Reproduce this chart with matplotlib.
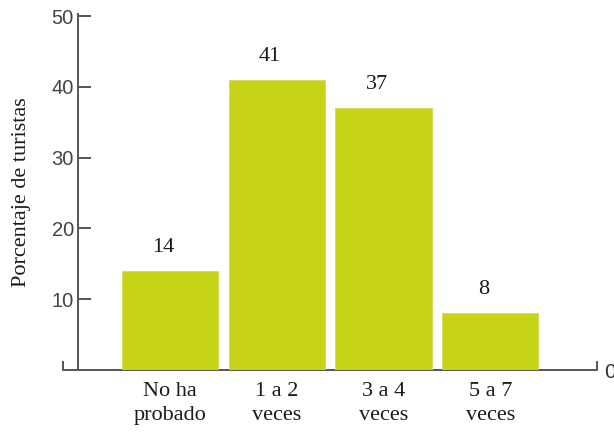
import matplotlib.pyplot as plt

# survey results: how many times tourists have tried the dish
categorias = ["No ha\nprobado", "1 a 2\nveces", "3 a 4\nveces", "5 a 7\nveces"]
porcentajes = [14, 41, 37, 8]
ticks_y = [10, 20, 30, 40, 50]

verde = "#c6d316"
gris = "#555555"
serif = "Liberation Serif"

W, H = 614, 432
fig = plt.figure(figsize=(W / 100, H / 100), dpi=100)
ax = fig.add_axes([78 / W, 1 - 370 / H, 518 / W, 356 / H])

pos = list(range(len(categorias)))
bars = ax.bar(pos, porcentajes, width=0.9, color=verde, edgecolor="#d2dc55",
              linewidth=0.6, zorder=3)

for b, v in zip(bars, porcentajes):
    ax.annotate(str(v), (b.get_x() + b.get_width() / 2, v), xytext=(-5, 10),
                textcoords="offset points", ha="center", va="bottom",
                fontsize=16, family=serif, color="#1a1a1a")

ax.set_xlim(-0.86, 3.99)
ax.set_ylim(0, 50.3)

ax.set_yticks(ticks_y)
ax.set_yticklabels([str(t) for t in ticks_y], fontsize=14.5, color="#444444",
                   family="Liberation Sans")
ax.tick_params(axis="y", direction="in", length=9, width=1.4, color=gris, pad=3)

ax.set_xticks(pos)
ax.set_xticklabels(categorias, fontsize=16, family=serif, color="#1a1a1a",
                   linespacing=1.3)
ax.tick_params(axis="x", length=0, pad=9)

for s in ["top", "right", "bottom"]:
    ax.spines[s].set_visible(False)
ax.spines["left"].set_color(gris)
ax.spines["left"].set_linewidth(1.4)
ax.spines["left"].set_zorder(4)

# bottom axis line with small hooks at both ends, behind the bars
hx0 = (63 - 78) / 518
hx1 = (597 - 78) / 518
hk = 8 / 356
ax.plot([hx0, hx0, hx1, hx1], [hk, 0, 0, hk], transform=ax.transAxes, color=gris,
        linewidth=1.4, clip_on=False, zorder=1, solid_joinstyle="round")

fig.text(604 / W, 1 - 372 / H, "0", fontsize=15, color="#333333", ha="left",
         va="center", family="Liberation Sans")

ax.set_ylabel("Porcentaje de turistas", fontsize=16, family=serif, color="#1a1a1a",
              labelpad=15)

fig.savefig("out.png", dpi=100)
